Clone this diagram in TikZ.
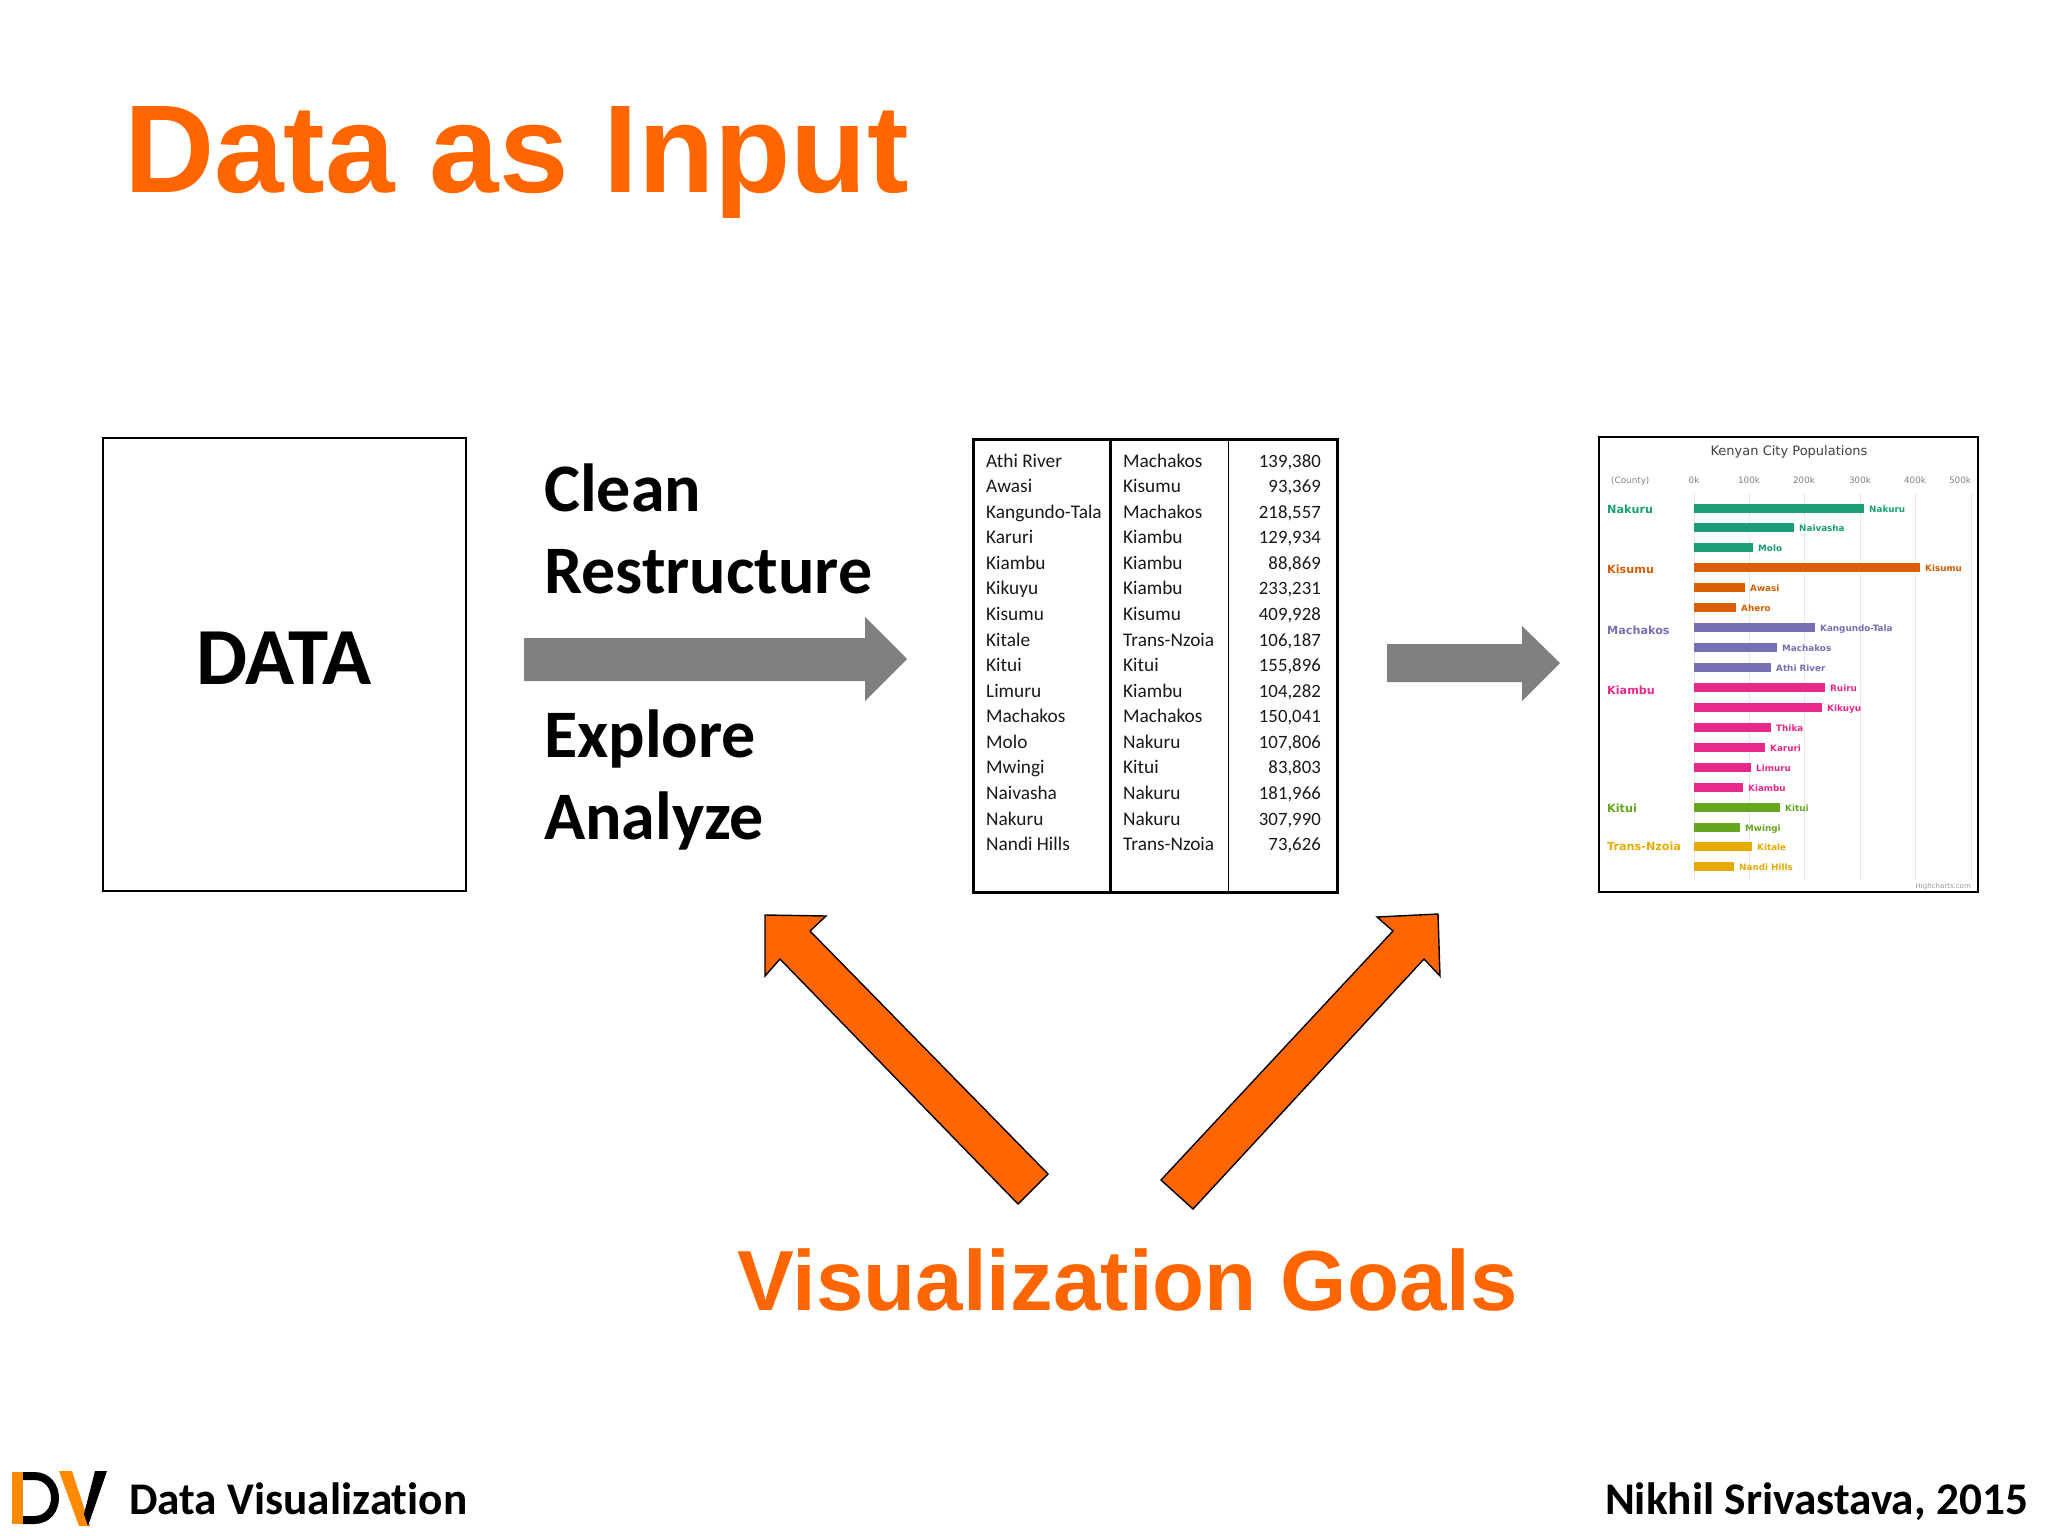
\documentclass[tikz,border=0pt]{standalone}
\usepackage{fontspec}
\setmainfont[Ligatures=NoCommon]{Carlito}
\newfontfamily\headfont{Liberation Sans}
\newfontfamily\chartfont{DejaVu Sans}
\definecolor{dvorange}{HTML}{FF6600}
\definecolor{logoorange}{HTML}{FF8A00}
\definecolor{dvgray}{HTML}{807F82}
\definecolor{cgreen}{HTML}{1B9E77}
\definecolor{corange}{HTML}{D95F02}
\definecolor{cpurple}{HTML}{7570B3}
\definecolor{cpink}{HTML}{E7298A}
\definecolor{colive}{HTML}{66A61E}
\definecolor{cyellow}{HTML}{E6AB02}
\newcommand{\fs}[1]{\fontsize{#1}{#1}\selectfont}
\tikzset{
 x=1pt,y=-1pt,
 framebox/.style={draw=black,line width=1.6pt,fill=white},
 headtxt/.style={font=\headfont\bfseries\fs{#1},text=dvorange,anchor=base west,inner sep=0pt},
 steptxt/.style={font=\bfseries\fs{68},anchor=base west,inner sep=0pt},
 foot/.style={font=\bfseries\fs{45.3},inner sep=0pt},
 cell/.style={font=\fs{19.3},text=black!90,inner sep=0pt,anchor=base west},
 cellnum/.style={font=\fs{18.8},text=black!90,inner sep=0pt,anchor=base east},
 grid/.style={draw=black!9,line width=0.8pt},
 axis/.style={font=\chartfont\fs{8.8},text=black!50,inner sep=0pt,anchor=base},
 group/.style={font=\chartfont\bfseries\fs{11.2},inner sep=0pt,anchor=base west},
 barlab/.style={font=\chartfont\bfseries\fs{8.8},inner sep=0pt,anchor=base west},
 goalarrow/.style={fill=dvorange,draw=black,line width=1.4pt,line join=miter},
}
\begin{document}
\begin{tikzpicture}
\useasboundingbox (0,0) rectangle (2048,1536);
\fill[white] (0,0) rectangle (2048,1536);
\node[headtxt=125] (title) at (124,193) {Data as Input};
% data box
\node[framebox,minimum width=363pt,minimum height=453pt,anchor=north west,inner sep=0pt] (data) at (102,437) {};
\node[font=\bfseries\fs{81},inner sep=0pt] (datatxt) at (284,658) {DATA};
% steps
\node[steptxt] (s1) at (544,511) {Clean};
\node[steptxt] (s2) at (544,593) {Restructure};
\node[steptxt] (s3) at (544,757) {Explore};
\node[steptxt] (s4) at (544,839) {Analyze};
% grey arrows
\fill[dvgray] (524,638) -- (865,638) -- (865,617) -- (907,659) -- (865,701) -- (865,681) -- (524,681) -- cycle;
\fill[dvgray] (1387,644) -- (1522,644) -- (1522,626) -- (1560,663) -- (1522,701) -- (1522,682) -- (1387,682) -- cycle;
% table
\draw[black,line width=3pt] (973,439) rectangle (1337,892);
\coordinate (c1t) at (1110,439); \coordinate (c1b) at (1110,892);
\coordinate (c2t) at (1228.5,439); \coordinate (c2b) at (1228.5,892);
\draw[black,line width=3pt] (c1t) -- (c1b);
\draw[black,line width=1.3pt] (c2t) -- (c2b);
\foreach \r/\a/\b/\c [count=\i from 0] in {
 Athi River/Machakos/{139,380},Awasi/Kisumu/{93,369},Kangundo-Tala/Machakos/{218,557},Karuri/Kiambu/{129,934},
 Kiambu/Kiambu/{88,869},Kikuyu/Kiambu/{233,231},Kisumu/Kisumu/{409,928},Kitale/Trans-Nzoia/{106,187},
 Kitui/Kitui/{155,896},Limuru/Kiambu/{104,282},Machakos/Machakos/{150,041},Molo/Nakuru/{107,806},
 Mwingi/Kitui/{83,803},Naivasha/Nakuru/{181,966},Nakuru/Nakuru/{307,990},Nandi Hills/Trans-Nzoia/{73,626}}{
 \pgfmathsetmacro{\yy}{467+25.58*\i}
 \node[cell] (ta\i) at (986,\yy) {\r};
 \node[cell] (tb\i) at (1123,\yy) {\a};
 \node[cellnum] (tc\i) at (1321,\yy) {\c};
}
% chart
\draw[draw=black,line width=1.4pt,fill=white] (1599,437) rectangle (1978,892);
\node[font=\chartfont\fs{13},text=black!75,inner sep=0pt,anchor=base] (ctitle) at (1789,455) {Kenyan City Populations};
\node[axis,anchor=base west] (county) at (1611,483) {(County)};
\foreach \x/\l in {1694/0k,1749/100k,1804/200k,1860/300k,1915/400k,1960/500k}{
 \node[axis] (ax\l) at (\x,483) {\l};
}
\foreach \x in {1694,1749,1804,1860,1915,1971}{
 \draw[grid] (\x,493) -- (\x,880);
}
\foreach \c/\w/\l [count=\i from 0] in {
 cgreen/170/Nakuru,cgreen/100/Naivasha,cgreen/59/Molo,corange/226/Kisumu,corange/51/Awasi,corange/42/Ahero,
 cpurple/121/Kangundo-Tala,cpurple/83/Machakos,cpurple/77/Athi River,cpink/131/Ruiru,cpink/128/Kikuyu,cpink/77/Thika,
 cpink/71/Karuri,cpink/57/Limuru,cpink/49/Kiambu,colive/86/Kitui,colive/46/Mwingi,cyellow/58/Kitale,cyellow/40/Nandi Hills}{
 \pgfmathsetmacro{\yy}{503.5+19.94*\i}
 \pgfmathsetmacro{\xe}{1694+\w}
 \fill[\c] (1694,\yy) rectangle (\xe,\yy+9);
 \node[barlab,text=\c] (bl\i) at (\xe+5,\yy+8.5) {\l};
}
\node[group,text=cgreen] (g1) at (1607,513) {Nakuru};
\node[group,text=corange] (g2) at (1607,573) {Kisumu};
\node[group,text=cpurple] (g3) at (1607,634) {Machakos};
\node[group,text=cpink] (g4) at (1607,694) {Kiambu};
\node[group,text=colive] (g5) at (1607,812) {Kitui};
\node[group,text=cyellow] (g6) at (1607,850) {Trans-Nzoia};
\node[font=\chartfont\fs{7},text=black!40,inner sep=0pt,anchor=base east] (hc) at (1971,888) {Highcharts.com};
% orange arrows
\draw[goalarrow] (1048,1174) -- (1018,1204) -- (780,959) -- (765,976) -- (765,915) -- (826,916) -- (810,931) -- cycle;
\draw[goalarrow] (1161,1180) -- (1193,1209) -- (1424,959) -- (1440,976) -- (1438,914) -- (1377,917) -- (1393,931) -- cycle;
\node[headtxt=85.3] (goals) at (737,1310) {Visualization Goals};
% footer
\fill[logoorange] (12,1472) rectangle (23,1524);
\draw[black,line width=8pt] (23,1476) -- (34,1476) .. controls (62,1476) and (62,1520) .. (34,1520) -- (23,1520);
\fill[logoorange] (59,1471) -- (72,1471) -- (90,1526) -- (79,1526) -- cycle;
\fill[black] (95,1471) -- (107,1471) -- (88,1526) -- (84,1514) -- cycle;
\node[foot,anchor=base west] (fl) at (129,1514) {Data Visualization};
\node[foot,anchor=base east] (fr) at (2028,1514) {Nikhil Srivastava, 2015};
\end{tikzpicture}
\end{document}
